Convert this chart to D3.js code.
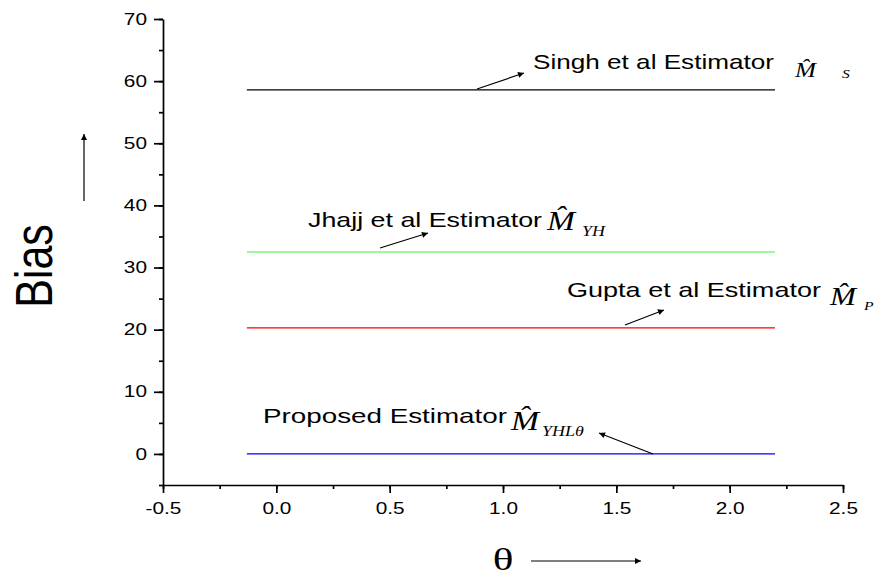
<!DOCTYPE html>
<html>
<head>
<meta charset="utf-8">
<script src="https://cdn.jsdelivr.net/npm/d3@7"></script>
<style>
  html, body { margin: 0; padding: 0; background: #fff; }
  svg { display: block; }
</style>
</head>
<body>
<svg id="chart" width="884" height="578"></svg>
<script>
// ---- data ----
const thetaValues = [-0.13, 2.2];
const singhBias = [58.6, 58.6];
const jhajjBias = [32.5, 32.5];
const guptaBias = [20.3, 20.3];
const proposedBias = [0.0, 0.0];
const seriesNames = ["Singh et al Estimator", "Jhajj et al Estimator", "Gupta et al Estimator", "Proposed Estimator"];
const seriesSubs = ["S", "YH", "P", "YHLθ"];
const seriesColors = ["#000000", "#3cf03c", "#ff0000", "#0000ff"];
const xTicks = [-0.5, 0.0, 0.5, 1.0, 1.5, 2.0, 2.5];
const yTicks = [0, 10, 20, 30, 40, 50, 60, 70];

(function () {
const svg = d3.select("#chart");
const mLeft = 163, mRight = 843, mTop = 19, mBottom = 485;
const SX = 1.3; // horizontal stretch of the original's lettering
const sans = "Liberation Sans, Arial, sans-serif";
const serif = "Liberation Serif, Times New Roman, serif";
const x = d3.scaleLinear().domain([-0.5, 2.5]).range([mLeft, mRight]);
const y = d3.scaleLinear().domain([-5, 70]).range([mBottom, mTop]);

const defs = svg.append("defs");
defs.append("marker").attr("id", "ah").attr("viewBox", "0 0 10 10")
  .attr("refX", 10).attr("refY", 5).attr("markerWidth", 10).attr("markerHeight", 6)
  .attr("markerUnits", "userSpaceOnUse").attr("orient", "auto")
  .append("path").attr("d", "M0,0 L10,5 L0,10 z").attr("fill", "#000");

function stretchText(sel, px, py, s) {
  sel.attr("transform", `translate(${px},${py}) scale(${s},1) translate(${-px},${-py})`);
}

// axes
const xMinor = d3.range(-0.5, 2.51, 0.25);
const yMinor = d3.range(-5, 70.1, 5);
const axX = svg.append("g").attr("transform", `translate(0,${mBottom})`);
axX.call(d3.axisBottom(x).tickValues(xMinor).tickSize(4).tickFormat(""));
axX.call(g => g.select(".domain").remove());
const axX2 = svg.append("g").attr("transform", `translate(0,${mBottom})`)
  .call(d3.axisBottom(x).tickValues(xTicks).tickSize(8).tickSizeOuter(0).tickPadding(10)
    .tickFormat(d => d.toFixed(1)));
const axY = svg.append("g").attr("transform", `translate(${mLeft},0)`);
axY.call(d3.axisLeft(y).tickValues(yMinor).tickSize(4).tickFormat(""));
axY.call(g => g.select(".domain").remove());
const axY2 = svg.append("g").attr("transform", `translate(${mLeft},0)`)
  .call(d3.axisLeft(y).tickValues(yTicks).tickSize(9).tickSizeOuter(0).tickPadding(7));
svg.selectAll(".tick text").attr("font-family", sans).attr("font-size", 16).attr("fill", "#000");
axX2.selectAll(".tick text").each(function () { stretchText(d3.select(this), 0, 0, SX); });
axY2.selectAll(".tick text").each(function () { stretchText(d3.select(this), -16, 0, SX); });
svg.selectAll(".domain, .tick line").attr("stroke", "#000").attr("stroke-width", 1.7);

// lines
const allSeries = [singhBias, jhajjBias, guptaBias, proposedBias];
const line = d3.line().x((d, i) => x(thetaValues[i])).y(d => y(d));
allSeries.forEach((s, k) => {
  svg.append("path").datum(s).attr("d", line).attr("fill", "none")
    .attr("stroke", seriesColors[k]).attr("stroke-width", 1.2);
});

// annotations (pixel layout): text start/baseline/width, M-hat, subscript, arrow
const annots = [
  {t: [533, 69, 241], m: [795, 77, 21], s: [842, 78, 13], a: [[477, 89], [524, 73]]},
  {t: [308, 227, 234], m: [547, 230, 28], s: [582, 236, 15], a: [[380, 248], [428, 233]]},
  {t: [567, 297, 254], m: [830, 305, 26], s: [864, 310, 13], a: [[625, 325], [664, 310]]},
  {t: [263, 423, 244], m: [511, 430, 28], s: [542, 436, 15], a: [[653, 454], [599, 433]]}
];
annots.forEach((a, k) => {
  svg.append("text").attr("x", a.t[0]).attr("y", a.t[1])
    .attr("font-family", sans).attr("font-size", 21).attr("fill", "#000")
    .attr("textLength", a.t[2]).attr("lengthAdjust", "spacingAndGlyphs")
    .text(seriesNames[k]);
  const m = svg.append("text").attr("x", a.m[0]).attr("y", a.m[1])
    .attr("font-family", serif).attr("font-style", "italic")
    .attr("font-size", a.m[2]).attr("fill", "#000").text("M\u0302");
  stretchText(m, a.m[0], a.m[1], 1.2);
  const s = svg.append("text").attr("x", a.s[0]).attr("y", a.s[1])
    .attr("font-family", serif).attr("font-style", "italic")
    .attr("font-size", a.s[2]).attr("fill", "#000").text(seriesSubs[k]);
  stretchText(s, a.s[0], a.s[1], 1.2);
  svg.append("line").attr("x1", a.a[0][0]).attr("y1", a.a[0][1])
    .attr("x2", a.a[1][0]).attr("y2", a.a[1][1])
    .attr("stroke", "#000").attr("stroke-width", 1.2).attr("marker-end", "url(#ah)");
});

// axis titles
svg.append("text").attr("transform", "translate(52,266) scale(1.2,1) rotate(-90)")
  .attr("text-anchor", "middle").attr("font-family", sans)
  .attr("font-size", 43).attr("fill", "#000").text("Bias");
svg.append("line").attr("x1", 84).attr("y1", 201).attr("x2", 84).attr("y2", 134)
  .attr("stroke", "#000").attr("stroke-width", 1.2).attr("marker-end", "url(#ah)");
const th = svg.append("text").attr("x", 503).attr("y", 570).attr("text-anchor", "middle")
  .attr("font-family", serif).attr("font-size", 32).attr("fill", "#000").text("θ");
stretchText(th, 503, 570, 1.35);
svg.append("line").attr("x1", 531).attr("y1", 561).attr("x2", 641).attr("y2", 561)
  .attr("stroke", "#000").attr("stroke-width", 1.2).attr("marker-end", "url(#ah)");
})();
</script>
</body>
</html>
